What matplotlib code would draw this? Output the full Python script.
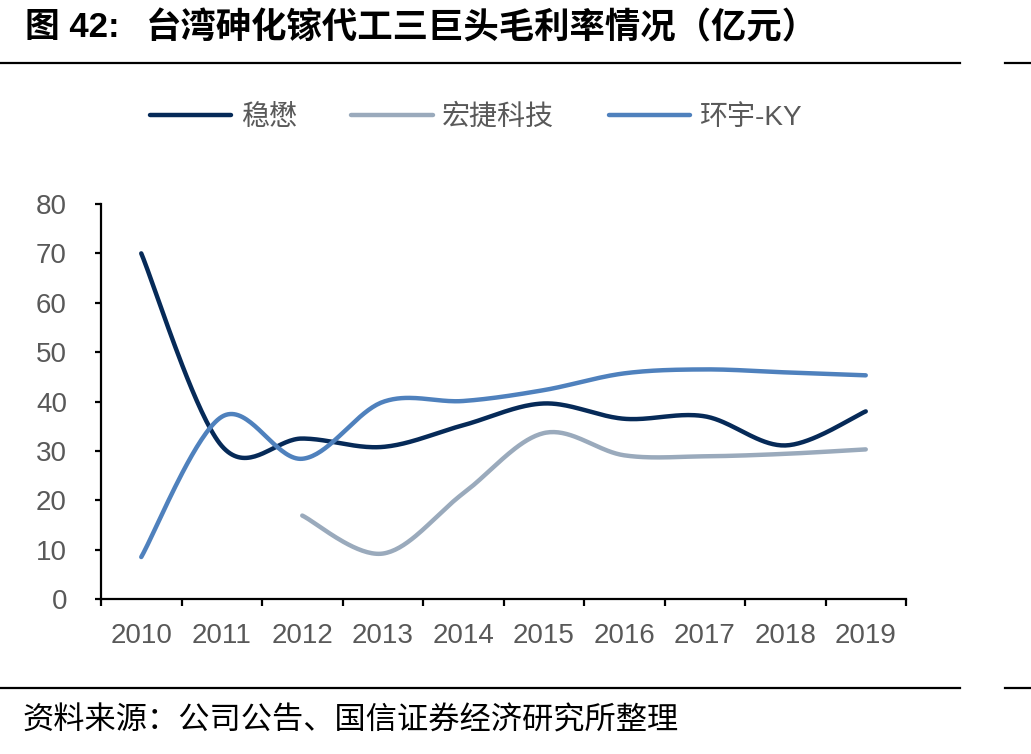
import numpy as np
import matplotlib.pyplot as plt
from matplotlib.lines import Line2D
from matplotlib.font_manager import FontProperties

# 数据（毛利率 %）
years = ['2010', '2011', '2012', '2013', '2014', '2015', '2016', '2017', '2018', '2019']
wenmao = [70.0, 31.0, 32.5, 30.8, 35.2, 39.6, 36.5, 37.0, 31.1, 38.0]           # 稳懋
hongjie = [np.nan, np.nan, 16.9, 9.2, 21.4, 33.6, 29.1, 28.9, 29.4, 30.3]      # 宏捷科技
huanyu = [8.5, 36.9, 28.4, 39.9, 40.1, 42.3, 45.7, 46.5, 45.9, 45.3]           # 环宇-KY

names = ['稳懋', '宏捷科技', '环宇-KY']
colors = ['#062A58', '#9AAABC', '#4F81BD']

W, H = 1031, 754
mixed = ['Liberation Sans', 'Noto Sans CJK SC']


def smooth(x, y, n=40):
    # Excel 风格的平滑线（贝塞尔）
    x = np.asarray(x, float)
    y = np.asarray(y, float)
    ok = ~np.isnan(y)
    pts = np.column_stack([x[ok], y[ok]])
    out = []
    for i in range(len(pts) - 1):
        p0 = pts[max(i - 1, 0)]
        p1 = pts[i]
        p2 = pts[i + 1]
        p3 = pts[min(i + 2, len(pts) - 1)]
        c1 = p1 + (p2 - p0) / 6
        c2 = p2 - (p3 - p1) / 6
        t = np.linspace(0, 1, n)[:, None]
        seg = (1 - t) ** 3 * p1 + 3 * (1 - t) ** 2 * t * c1 + 3 * (1 - t) * t ** 2 * c2 + t ** 3 * p2
        out.append(seg if i == 0 else seg[1:])
    s = np.vstack(out)
    return s[:, 0], s[:, 1]


fig = plt.figure(figsize=(W / 100, H / 100), dpi=100)
ax = fig.add_axes([101 / W, 1 - 599 / H, 805 / W, 395 / H])

xs = np.arange(len(years))
for vals, name, c in zip([wenmao, hongjie, huanyu], names, colors):
    sx, sy = smooth(xs, vals)
    ax.plot(sx, sy, color=c, lw=3.2, label=name, solid_capstyle='round', clip_on=False)

ax.set_xlim(-0.5, 9.5)
ax.set_ylim(0, 80)
ax.set_yticks(range(0, 81, 10))
ax.set_xticks(np.arange(-0.5, 10, 1))
ax.set_xticklabels([])
ax.set_xticks(xs, minor=True)
ax.set_xticklabels(years, minor=True)

for s in ['top', 'right']:
    ax.spines[s].set_visible(False)
for s in ['left', 'bottom']:
    ax.spines[s].set_linewidth(1.6)
    ax.spines[s].set_color('black')

ax.tick_params(axis='y', direction='out', length=4.5, width=1.6, pad=20,
               labelsize=20, labelcolor='#595959')
ax.tick_params(axis='x', which='major', direction='out', length=5, width=1.6)
ax.tick_params(axis='x', which='minor', length=0, pad=17, labelsize=20, labelcolor='#595959')
for lab in ax.get_yticklabels() + ax.get_xticklabels(minor=True):
    lab.set_fontfamily('Liberation Sans')

leg = ax.legend(loc='center left', bbox_to_anchor=(150 / W, 1 - 118 / H),
                bbox_transform=fig.transFigure, ncol=3, frameon=False,
                handlelength=2.9, handletextpad=0.33, columnspacing=1.95,
                borderpad=0, borderaxespad=0,
                prop=FontProperties(family=mixed, size=20.2))
for t in leg.get_texts():
    t.set_color('#595959')

# 标题
fig.text(25 / W, 1 - 28 / H, '图 42:', fontsize=25, fontweight='bold',
         family=mixed, va='center', ha='left')
fig.text(146 / W, 1 - 28 / H, '台湾砷化镓代工三巨头毛利率情况（亿元）',
         fontsize=25.5, fontweight='bold', family=mixed, va='center', ha='left')
# 分隔线
for yy in [63, 688]:
    fig.add_artist(Line2D([0, 960 / W], [1 - yy / H, 1 - yy / H], color='black', lw=1.6))
    fig.add_artist(Line2D([1005 / W, 1], [1 - yy / H, 1 - yy / H], color='black', lw=1.6))
# 来源
fig.text(22 / W, 1 - 721 / H, '资料来源：公司公告、国信证券经济研究所整理',
         fontsize=22.5, family=mixed, va='center', ha='left')

fig.savefig('out.png', dpi=100)
